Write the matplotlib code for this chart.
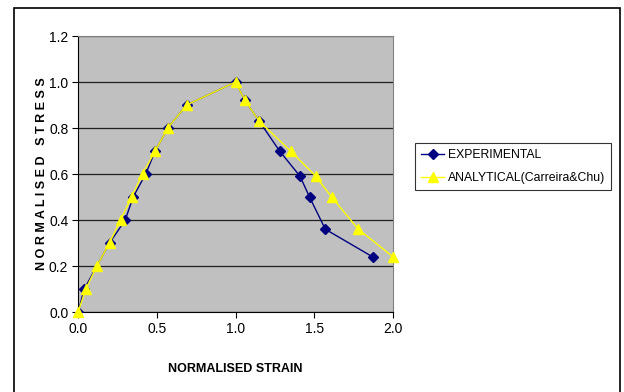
import matplotlib.pyplot as plt
from matplotlib.patches import Rectangle

plt.rcParams['font.family'] = ['Liberation Sans', 'DejaVu Sans']

# experimental curve
exp_strain = [0.0, 0.04, 0.20, 0.30, 0.35, 0.43, 0.49, 0.57, 0.69, 1.0, 1.06, 1.15, 1.28, 1.41, 1.47, 1.57, 1.87]
exp_stress = [0.0, 0.10, 0.30, 0.40, 0.50, 0.60, 0.70, 0.80, 0.90, 1.0, 0.92, 0.83, 0.70, 0.59, 0.50, 0.36, 0.24]

# analytical curve (Carreira & Chu)
ana_strain = [0.0, 0.05, 0.12, 0.20, 0.27, 0.34, 0.41, 0.49, 0.57, 0.69, 1.0, 1.06, 1.15, 1.35, 1.51, 1.61, 1.78, 2.0]
ana_stress = [0.0, 0.10, 0.20, 0.30, 0.40, 0.50, 0.60, 0.70, 0.80, 0.90, 1.0, 0.92, 0.83, 0.70, 0.59, 0.50, 0.36, 0.24]

fig = plt.figure(figsize=(6.24, 3.92), dpi=100)
fig.patch.set_facecolor('white')

# outer chart border (bottom edge runs off the picture)
fig.patches.append(Rectangle((14/624, -5/392), 606/624, 389/392, transform=fig.transFigure,
                             fill=False, edgecolor='black', linewidth=1.2))

ax = fig.add_axes([78/624, 1 - 312/392, 315/624, 276/392])
ax.set_facecolor('#C0C0C0')

ax.plot(exp_strain, exp_stress, color='#000080', marker='D', markersize=5,
        linewidth=1.0, label='EXPERIMENTAL', zorder=3)
ax.plot(ana_strain, ana_stress, color='#FFFF00', marker='^', markersize=7,
        linewidth=1.0, label='ANALYTICAL(Carreira&Chu)', zorder=4, clip_on=False)

ax.set_xlim(0, 2.0)
ax.set_ylim(0, 1.2)
ax.set_xticks([0, 0.5, 1.0, 1.5, 2.0])
ax.set_yticks([0, 0.2, 0.4, 0.6, 0.8, 1.0, 1.2])
ax.set_xticklabels(['0.0', '0.5', '1.0', '1.5', '2.0'], fontsize=10)
ax.set_yticklabels(['0.0', '0.2', '0.4', '0.6', '0.8', '1.0', '1.2'], fontsize=10)
ax.tick_params(direction='out', length=4, width=0.8, pad=3)
ax.grid(axis='y', color='#202020', linewidth=0.9)
ax.set_axisbelow(True)

for s in ['top', 'right']:
    ax.spines[s].set_color('#808080')
for s in ['left', 'bottom']:
    ax.spines[s].set_color('black')

ax.set_xlabel('NORMALISED STRAIN', fontsize=9, fontweight='bold', labelpad=20)
ax.set_ylabel('N O R M A L I S E D   S T R E S S', fontsize=9, fontweight='bold', labelpad=1)

leg = ax.legend(loc='upper left', bbox_to_anchor=((415 - 78)/315, 1 - (143 - 36)/276),
                frameon=True, fancybox=False, edgecolor='black', fontsize=8.8,
                handlelength=1.9, handletextpad=0.3, borderpad=0.5, labelspacing=0.9,
                borderaxespad=0)
leg.get_frame().set_linewidth(0.8)

fig.savefig('out.png', dpi=100)
